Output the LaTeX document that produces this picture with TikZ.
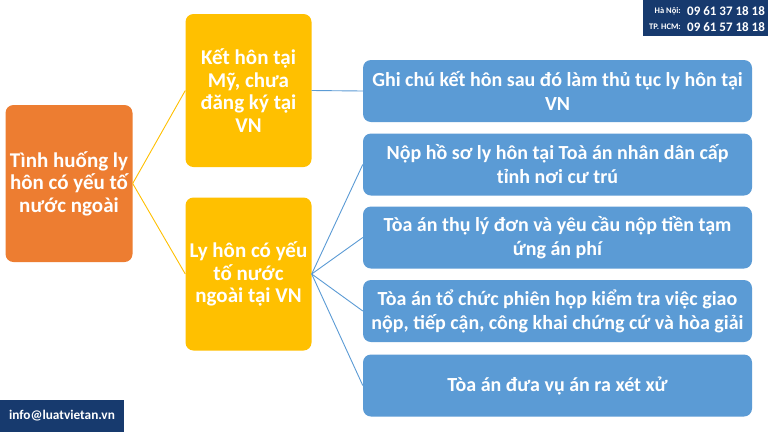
\documentclass[tikz,border=0pt]{standalone}
\usepackage{fontspec}
\setmainfont{Carlito}
\usetikzlibrary{positioning}

\definecolor{cam}{HTML}{ED7D31}
\definecolor{vang}{HTML}{FFC000}
\definecolor{xanh}{HTML}{5B9BD5}
\definecolor{navy}{HTML}{173A6E}

\tikzset{
  hop/.style={rounded corners=8pt, text=white, align=center, inner sep=0pt,
    font=\bfseries\fontsize{21}{22.5}\selectfont},
  hopcam/.style={hop, fill=cam, minimum width=127pt, minimum height=157pt},
  hopvang/.style={hop, fill=vang, minimum width=126pt, minimum height=153pt},
  hopxanh/.style={hop, fill=xanh, minimum width=389pt, minimum height=62pt,
    font=\bfseries\fontsize{20}{24}\selectfont},
  noivang/.style={draw=vang, line width=0.9pt},
  noixanh/.style={draw=xanh, line width=0.9pt},
  chu/.style={text=white, inner sep=0pt, font=\bfseries}
}

\begin{document}
\begin{tikzpicture}[x=1pt, y=-1pt]
  \useasboundingbox (0,0) rectangle (768,432);
  \fill[white] (0,0) rectangle (768,432);

  % cac hop chinh
  \node[hopcam] (T) at (69,183.5) {Tình huống ly\\hôn có yếu tố\\nước ngoài};
  \node[hopvang] (K) at (248.5,90.5) {Kết hôn tại\\Mỹ, chưa\\đăng ký tại\\VN};
  \node[hopvang] (L) at (248.5,274) {Ly hôn có yếu\\tố nước\\ngoài tại VN};

  \node[hopxanh] (B1) at (557.5,91) {Ghi chú kết hôn sau đó làm thủ tục ly hôn tại\\VN};
  \node[hopxanh] (B2) at (557.5,164.5) {Nộp hồ sơ ly hôn tại Toà án nhân dân cấp\\tỉnh nơi cư trú};
  \node[hopxanh] (B3) at (557.5,237.5) {Tòa án thụ lý đơn và yêu cầu nộp tiền tạm\\ứng án phí};
  \node[hopxanh] (B4) at (557.5,311) {Tòa án tổ chức phiên họp kiểm tra việc giao\\nộp, tiếp cận, công khai chứng cứ và hòa giải};
  \node[hopxanh] (B5) at (557.5,385.5) {Tòa án đưa vụ án ra xét xử};

  % duong noi
  \draw[noivang] (T.east) -- (K.west);
  \draw[noivang] (T.east) -- (L.west);
  \draw[noixanh] (K.east) -- (B1.west);
  \foreach \b in {B2,B3,B4,B5}
    \draw[noixanh] (L.east) -- (\b.west);

  % thong tin lien he
  \fill[navy] (643,0) rectangle (768,36);
  \node[chu, font=\bfseries\fontsize{8.5}{9}\selectfont, anchor=east] (hn) at (681,11) {Hà Nội:};
  \node[chu, font=\bfseries\fontsize{13}{13}\selectfont, anchor=west] (hnso) at (687,11) {09 61 37 18 18};
  \node[chu, font=\bfseries\fontsize{8.5}{9}\selectfont, anchor=east] (hcm) at (681,27) {TP. HCM:};
  \node[chu, font=\bfseries\fontsize{13}{13}\selectfont, anchor=west] (hcmso) at (687,27) {09 61 57 18 18};

  \fill[navy] (0,400) rectangle (124,432);
  \node[chu, font=\bfseries\fontsize{13.3}{14}\selectfont] (mail) at (62,416) {info@luatvietan.vn};
\end{tikzpicture}
\end{document}
